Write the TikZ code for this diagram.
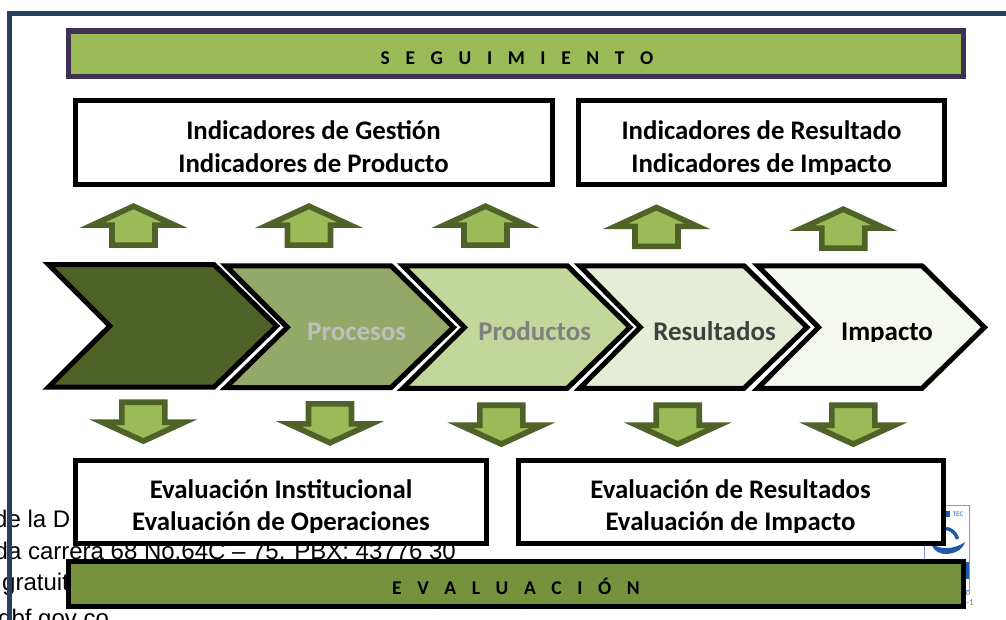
\documentclass[tikz,border=0pt]{standalone}
\usepackage{fontspec}
\setmainfont{Carlito}
\newfontfamily\bgfont{Liberation Sans}
\definecolor{frameblue}{HTML}{254061}
\definecolor{purpleedge}{HTML}{403152}
\definecolor{lightgreen}{HTML}{9BBB59}
\definecolor{midgreen}{HTML}{76923C}
\definecolor{darkgreen}{HTML}{4F6228}
\definecolor{chevb}{HTML}{94A868}
\definecolor{chevc}{HTML}{C3D69B}
\definecolor{chevd}{HTML}{E6EDD7}
\definecolor{cheve}{HTML}{F5F8EE}
\definecolor{logoblue}{HTML}{1F5AA6}
\tikzset{
  x=1pt,y=-1pt,
  chev/.style={draw=black,line width=5pt,miter limit=10,line join=miter},
  arrowshape/.style={draw=darkgreen,fill=lightgreen,line width=5.6pt,line join=miter,miter limit=10},
  tbox/.style={draw=black,fill=white,line width=5pt,inner sep=0pt,outer sep=0pt,anchor=north west},
  boxtext/.style={font=\fontsize{26.8}{32}\selectfont\bfseries,anchor=base,inner sep=0pt},
  bartext/.style={font=\fontsize{19.5}{22}\selectfont\bfseries,anchor=base,inner sep=0pt},
  chevtext/.style={font=\fontsize{27}{30}\selectfont\bfseries,anchor=base,inner sep=0pt},
  bgtext/.style={font=\bgfont\fontsize{24}{28}\selectfont,anchor=base west,inner sep=0pt},
}
\newcommand{\uparr}[2]{\draw[arrowshape] (#1,#2+3.2) -- (#1+41.2,#2+22.1) -- (#1+21.5,#2+22.1) -- (#1+21.5,#2+42.1) -- (#1-21.5,#2+42.1) -- (#1-21.5,#2+22.1) -- (#1-41.2,#2+22.1) -- cycle;}
\newcommand{\downarr}[2]{\draw[arrowshape] (#1,#2+41.8) -- (#1+41.2,#2+22.9) -- (#1+21.5,#2+22.9) -- (#1+21.5,#2+2.9) -- (#1-21.5,#2+2.9) -- (#1-21.5,#2+22.9) -- (#1-41.2,#2+22.9) -- cycle;}
\newcommand{\chevron}[8]{\draw[chev,fill=#1] (#2,#6) -- (#4,#6) -- (#5,#8) -- (#4,#7) -- (#2,#7) -- (#3,#8) -- cycle;}
\newcommand{\spc}{\hspace{.8em}}
\begin{document}
\begin{tikzpicture}
\useasboundingbox (0,0) rectangle (1006,620);
\fill[white] (0,0) rectangle (1006,620);
% background text
\node[bgtext] (bga) at (-6,527) {de la D};
\node[bgtext] (bgb) at (-5.5,559) {da carrera 68 No.64C – 75. PBX: 43776 30};
\node[bgtext] (bgc) at (2,590.5) {gratuit};
\node[bgtext] (bgd) at (-2,626) {dbf gov co};
% logo fragment
\draw[draw=logoblue!60!white,line width=1pt] (924,505) rectangle (969,590);
\fill[logoblue] (965,562) rectangle (969,579);
\begin{scope}
\clip (925,505) rectangle (969,580);
\draw[logoblue,line width=3.5pt] (946,528.5) .. controls (951,529) and (956,533) .. (957.5,539);
\fill[logoblue] (931,543) .. controls (938,549) and (952,551) .. (965,542) .. controls (963,554) and (936,561) .. (931,543) -- cycle;
\fill[logoblue] (945,511) rectangle (950,517);
\end{scope}
\node[font=\fontsize{7}{8}\selectfont\bfseries,text=logoblue!70!white,inner sep=0pt] (logotec) at (958,514) {TEC};
\node[font=\fontsize{9}{9}\selectfont,text=gray,inner sep=0pt] (logoa) at (968,593) {o};
\node[font=\fontsize{9}{9}\selectfont,text=gray,inner sep=0pt] (logob) at (970,603) {-1};
% frame
\fill[frameblue] (7,11) rectangle (1006,16);
\fill[frameblue] (7,11) rectangle (12,620);
% top bar
\node[draw=purpleedge,fill=lightgreen,line width=5.5pt,minimum width=895,minimum height=45.5,inner sep=0pt,outer sep=0pt,anchor=north west] (seg) at (68.5,31) {};
\node[bartext] (segt) at (517,64.2) {S\spc E\spc G\spc U\spc I\spc M\spc I\spc E\spc N\spc T\spc O};
% upper boxes
\node[tbox,minimum width=477.5,minimum height=84] (ig) at (75,101) {};
\node[tbox,minimum width=366,minimum height=84] (ir) at (578.5,101) {};
\node[boxtext] (iga) at (313.5,140) {Indicadores de Gestión};
\node[boxtext] (ira) at (761.5,140) {Indicadores de Resultado};
\begin{scope}
\clip (75,145) rectangle (944,175);
\node[boxtext] (igb) at (313.5,173) {Indicadores de Producto};
\node[boxtext] (irb) at (761.5,173) {Indicadores de Impacto};
\end{scope}
% up arrows
\uparr{133.5}{203}
\uparr{309}{203}
\uparr{485.5}{203}
\uparr{656.5}{204.3}
\uparr{843.3}{206}
% chevrons
\chevron{darkgreen}{48.5}{109.8}{214}{276.7}{264.6}{387.1}{326}
\chevron{chevb}{225.8}{287.3}{391}{453.5}{265.8}{387.5}{327.3}
\chevron{chevc}{403}{464.5}{567.3}{630}{265.8}{388.3}{327.3}
\chevron{chevd}{579.7}{640.3}{744}{807}{265.8}{388.3}{327.3}
\chevron{cheve}{757.7}{818.5}{922}{984.5}{265.8}{388.3}{327.3}
\node[chevtext,text=black!25!white] (cp) at (356.7,340.5) {Procesos};
\node[chevtext,text=black!50!white] (cq) at (534.7,340.5) {Productos};
\node[chevtext,text=black!75!white] (cr) at (714.5,340.5) {Resultados};
\begin{scope}
\clip (830,300) rectangle (950,341);
\node[chevtext,text=black] (ci) at (887,340.5) {Impacto};
\end{scope}
% down arrows
\downarr{143.3}{399.3}
\downarr{330}{401}
\downarr{501.3}{402.3}
\downarr{677.7}{402.3}
\downarr{853.3}{402.3}
% lower boxes
\node[tbox,minimum width=411.5,minimum height=83.5] (ei) at (75,460) {};
\node[tbox,minimum width=424.5,minimum height=83.5] (er) at (518.5,460) {};
\node[boxtext] (eia) at (281,498.5) {Evaluación Institucional};
\node[boxtext] (era) at (730.5,498.5) {Evaluación de Resultados};
\begin{scope}
\clip (75,505) rectangle (944,532.5);
\node[boxtext] (eib) at (281,530.5) {Evaluación de Operaciones};
\node[boxtext] (erb) at (730.5,530.5) {Evaluación de Impacto};
\end{scope}
% bottom bar
\node[draw=black,fill=midgreen,line width=5pt,minimum width=895,minimum height=45,inner sep=0pt,outer sep=0pt,anchor=north west] (ev) at (68.5,561.5) {};
\node[bartext] (evt) at (516,594) {E\spc V\spc A\spc L\spc U\spc A\spc C\spc I\spc Ó\spc N};
\end{tikzpicture}
\end{document}
